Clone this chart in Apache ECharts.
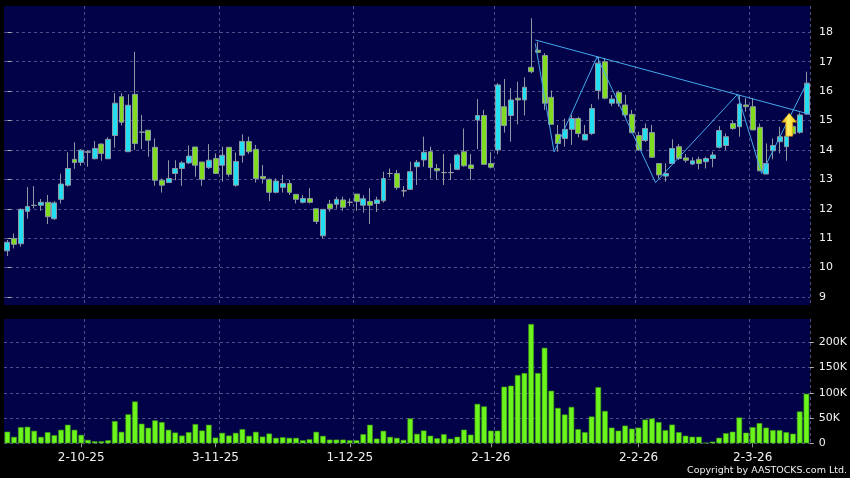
<!DOCTYPE html>
<html><head><meta charset="utf-8">
<script src="https://cdn.jsdelivr.net/npm/echarts@6/dist/echarts.min.js"></script>
<style>html,body{margin:0;padding:0;background:#000;}#c{width:850px;height:478px;}</style>
</head><body><div id="c"></div>
<script>
const opens  = [10.57,10.99,10.81,11.91,12.12,12.12,12.22,11.66,12.32,12.80,13.68,13.58,13.94,13.70,14.20,13.70,14.49,15.81,13.94,15.89,
  14.61,14.67,14.09,12.97,12.89,13.20,13.37,13.56,14.10,13.59,13.40,13.71,13.48,14.09,12.80,13.82,14.29,14.02,13.10,13.00,
  12.56,12.73,12.86,12.49,12.22,12.35,12.00,11.08,12.16,12.15,12.30,12.22,12.50,12.12,12.25,12.18,12.27,13.20,13.20,12.61,
  12.66,13.43,13.66,13.94,13.37,13.23,13.23,13.34,13.94,13.49,15.02,15.17,13.54,14.00,15.47,15.17,15.76,15.70,16.81,17.39,
  17.21,15.79,14.53,14.39,14.70,15.07,14.34,14.56,16.02,17.00,15.59,15.95,15.53,15.21,14.49,14.32,14.59,13.54,13.11,13.54,
  14.11,13.73,13.52,13.68,13.60,13.71,14.09,14.15,14.90,14.79,15.53,15.47,14.77,13.18,13.97,14.28,14.11,14.80,14.60,15.22];
const closes = [10.86,10.79,11.98,12.08,12.11,12.22,11.73,12.20,12.84,13.37,13.57,13.99,13.92,14.05,13.88,14.36,15.59,14.94,15.52,14.22,
  14.60,14.33,12.97,12.80,13.03,13.37,13.56,13.79,13.48,13.00,13.65,13.20,13.82,13.17,13.61,14.29,13.94,13.03,13.03,12.56,
  12.94,12.86,12.56,12.32,12.35,12.22,11.57,11.98,12.00,12.32,12.05,12.22,12.25,12.34,12.12,12.30,13.03,13.20,12.72,12.61,
  13.26,13.58,13.92,13.40,13.29,13.23,13.23,13.83,13.46,13.37,15.17,13.51,13.41,16.21,14.83,15.70,15.70,16.13,16.66,17.32,
  15.59,14.87,14.22,14.70,15.07,14.56,14.53,15.41,16.95,15.76,15.73,15.59,15.19,14.59,14.00,14.73,13.75,13.15,13.20,14.05,
  13.71,13.65,13.63,13.54,13.71,13.83,14.66,14.45,14.73,15.56,15.47,14.68,13.29,13.54,14.15,14.45,14.47,14.55,15.19,16.27];
const lows   = [10.39,10.65,10.71,11.66,12.01,11.93,11.48,11.62,12.18,12.75,13.36,13.46,13.43,13.68,13.63,13.70,14.08,14.83,13.94,14.00,
  14.03,13.77,12.78,12.55,12.89,12.97,12.78,13.52,13.09,12.78,13.35,13.18,12.92,13.09,12.75,13.57,13.86,12.89,12.86,12.26,
  12.52,12.55,12.47,12.18,12.18,12.18,11.48,10.99,11.90,12.00,11.93,12.09,11.93,11.87,11.48,11.89,12.21,13.07,12.64,12.41,
  12.64,12.81,13.43,13.03,12.98,12.81,12.98,13.31,13.43,12.98,14.03,13.49,13.37,13.86,14.59,14.28,14.87,15.17,16.61,17.29,
  15.36,14.87,13.94,14.11,14.17,14.43,14.34,14.51,15.72,15.72,15.49,15.47,15.11,14.56,13.97,14.27,13.75,13.03,12.92,13.52,
  13.66,13.57,13.49,13.34,13.37,13.41,14.05,14.00,14.68,14.45,15.30,14.68,13.29,13.18,13.68,13.88,13.63,14.50,14.55,15.19];
const highs  = [10.94,11.16,12.01,12.74,12.77,12.33,12.47,12.26,13.19,13.92,14.26,14.03,14.00,14.30,14.22,14.43,15.93,15.93,15.89,17.34,
  15.19,14.67,14.39,13.03,13.65,13.65,13.62,14.15,14.10,13.59,14.20,13.88,14.11,14.09,13.91,14.53,14.45,14.17,13.49,13.03,
  13.03,13.15,12.98,12.49,12.47,12.70,12.00,11.98,12.30,12.41,12.41,12.35,12.50,12.46,12.70,12.41,13.26,13.37,13.32,12.77,
  13.60,13.66,14.45,14.11,13.52,13.86,13.54,13.88,14.73,13.86,15.73,15.36,13.92,16.27,16.41,16.10,16.32,16.47,18.48,17.68,
  17.29,16.02,14.85,15.07,15.19,15.13,14.85,15.56,17.17,17.12,15.87,16.02,15.87,15.36,14.62,14.90,14.85,13.54,13.54,14.36,
  14.20,13.86,13.75,13.77,13.77,13.94,14.81,14.56,15.00,15.87,15.76,15.76,14.90,14.22,14.39,14.79,14.85,14.85,15.27,16.66];
const volumesK = [23,12.7,32,32.7,24.7,12.7,22,16,26.7,36.7,26.7,16.7,6.7,4,4,6,44,22.7,57.3,82.7,
  38.7,30.7,45.3,42,26.7,21.3,15.3,22,38,25.3,36.7,11.3,20.7,15.3,20.7,28,14.7,22.7,13.3,19.3,
  10.7,12,10.7,10.7,6,8,22.7,14.7,7.3,7.3,7.3,6,6,18,36.7,9.3,24.7,12.7,10.7,6.7,
  49.3,18.7,25.3,15,10,18,9,13,27,17,78,73,25,25,112,114,135,139,236,139,
  189,104,70,57,72,28,22,53,111,64,31,25,35,29,31,47,49,42,26,37,
  22,15,13,13,1.3,3.3,11,20,23,51,21,32,40,31,26,26,22,19,63,98];
const tickIndex  = [11, 31, 51, 72, 94, 111];
const tickLabels = ['2-10-25', '3-11-25', '1-12-25', '2-1-26', '2-2-26', '2-3-26'];
const gridIndex  = [12, 32, 52, 73, 94, 111];
const priceTicks = [9, 10, 11, 12, 13, 14, 15, 16, 17, 18];
const volumeTicks = [0, 50000, 100000, 150000, 200000];
const zigzag = [[78.6, 17.62], [81.4, 13.93], [87.8, 17.17], [96.5, 12.89], [108.7, 15.89], [112.3, 13.2], [119, 16.27]];
const resistance = [[78.6, 17.74], [119.5, 15.21]];
const signal = [[116.4, 14.86]];

const n = opens.length;
const categories = opens.map((_, i) => String(i));
const labelOf = {};
tickIndex.forEach((k, j) => { labelOf[k] = tickLabels[j]; });
const candles = opens.map((o, i) => [o, closes[i], lows[i], highs[i]]);
const volumes = volumesK.map(v => v * 1000);

const gridLine = { show: true, lineStyle: { color: '#4e4e88', type: [3, 3], width: 1 } };
const font = 'DejaVu Sans';
const chart = echarts.init(document.getElementById('c'), null, { renderer: 'canvas' });
chart.setOption({
  backgroundColor: '#000000',
  animation: false,
  grid: [
    { left: 4, right: 40, top: 6, height: 299, show: true, backgroundColor: '#020249', borderWidth: 0 },
    { left: 4, right: 40, top: 319, height: 124.3, show: true, backgroundColor: '#020249', borderWidth: 0 }
  ],
  xAxis: [
    { type: 'category', gridIndex: 0, data: categories, boundaryGap: true,
      axisLine: { show: false }, axisTick: { show: false }, axisLabel: { show: false },
      splitLine: Object.assign({ interval: (i) => gridIndex.includes(i) }, gridLine) },
    { type: 'category', gridIndex: 1, data: categories, boundaryGap: true,
      axisLine: { show: false },
      axisTick: { show: true, alignWithLabel: true, interval: (i) => tickIndex.includes(i), length: 4, lineStyle: { color: '#9a9a9a' } },
      axisLabel: { show: true, interval: (i) => tickIndex.includes(i), formatter: (v, i) => labelOf[i] || '',
        color: '#f0f0f0', fontFamily: font, fontSize: 12, margin: 9 },
      splitLine: Object.assign({ interval: (i) => gridIndex.includes(i) }, gridLine) },
    { type: 'value', gridIndex: 0, min: -0.5, max: n - 0.5, show: false }
  ],
  yAxis: [
    { type: 'value', gridIndex: 0, position: 'right', min: 8.728, max: 18.894,
      axisLine: { show: false },
      axisTick: { show: true, customValues: priceTicks, length: 4, lineStyle: { color: '#b0b0b0' } },
      axisLabel: { customValues: priceTicks, color: '#f0f0f0', fontFamily: font, fontSize: 11, margin: 9 },
      splitLine: gridLine },
    { type: 'value', gridIndex: 1, position: 'right', min: 0, max: 246000,
      axisLine: { show: false },
      axisTick: { show: true, customValues: volumeTicks, length: 4, lineStyle: { color: '#b0b0b0' } },
      axisLabel: { customValues: volumeTicks, color: '#f0f0f0', fontFamily: font, fontSize: 11, margin: 9,
        formatter: v => v === 0 ? '0' : (v / 1000) + 'K' },
      splitLine: gridLine }
  ],
  series: [
    { type: 'candlestick', xAxisIndex: 0, yAxisIndex: 0, data: candles, barWidth: 5.4,
      itemStyle: { color: '#22def0', color0: '#80dc1e', borderColor: '#8c98a4', borderColor0: '#8c98a4', borderColorDoji: '#a0a0a0', borderWidth: 1 } },
    { type: 'bar', xAxisIndex: 1, yAxisIndex: 1, data: volumes, barWidth: 5.6,
      itemStyle: { color: '#6cf51c', borderColor: '#3e9a10', borderWidth: 0.6 } },
    { type: 'line', xAxisIndex: 2, yAxisIndex: 0, data: zigzag, symbol: 'none', silent: true,
      lineStyle: { color: '#45a8ea', width: 1 } },
    { type: 'line', xAxisIndex: 2, yAxisIndex: 0, data: resistance, symbol: 'none', silent: true,
      lineStyle: { color: '#45a8ea', width: 1 } },
    { type: 'scatter', xAxisIndex: 2, yAxisIndex: 0, data: signal, silent: true, z: 5,
      symbol: 'path://M7.5,0 L15,9 L11,9 L11,23 L4,23 L4,9 L0,9 Z', symbolSize: [15, 23],
      itemStyle: { opacity: 1, color: new echarts.graphic.LinearGradient(0, 0, 1, 0, [
        { offset: 0, color: '#f0a800' }, { offset: 0.45, color: '#fff066' }, { offset: 1, color: '#ffc400' }]),
        borderColor: '#d08a00', borderWidth: 0.6 } }
  ],
  graphic: [
    { type: 'text', right: 3, top: 466, style: { text: 'Copyright by AASTOCKS.com Ltd.', fill: '#f0f0f0', font: '9.5px "DejaVu Sans"' } }
  ]
});
</script></body></html>
